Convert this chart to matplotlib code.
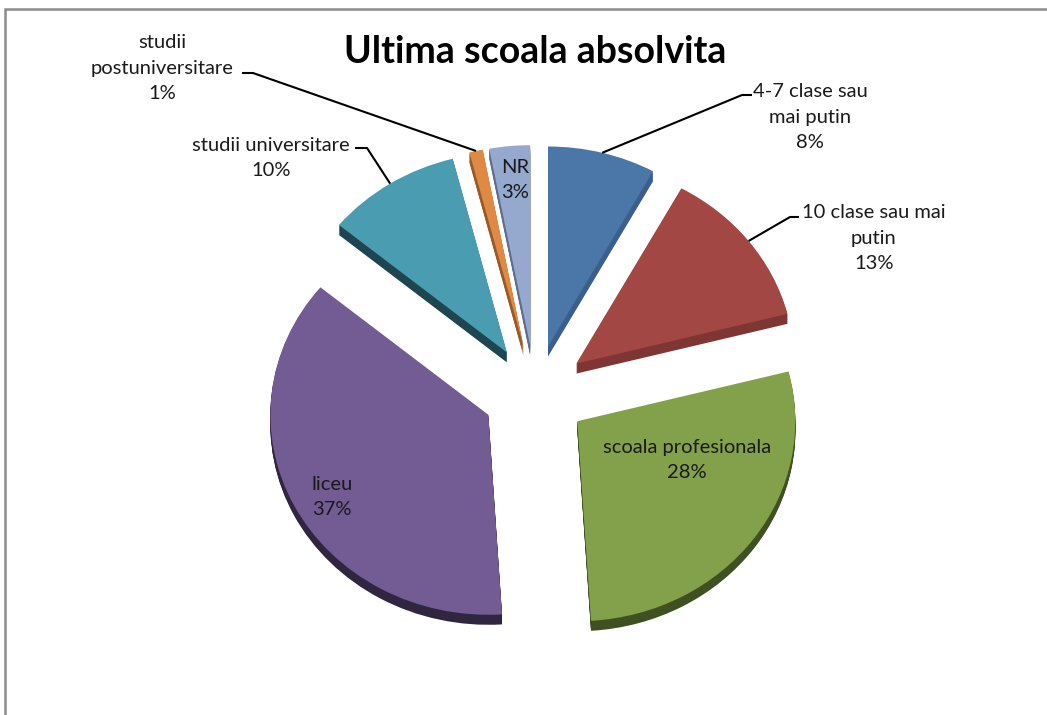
import numpy as np
import matplotlib.pyplot as plt
from matplotlib.patches import Rectangle

# data
categories = ['4-7 clase sau\nmai putin', '10 clase sau mai\nputin', 'scoala profesionala',
              'liceu', 'studii universitare', 'studii\npostuniversitare', 'NR']
values = [8, 13, 28, 37, 10, 1, 3]
colors = ['#4a76a8', '#a34745', '#83a04a', '#735b93', '#4a9db1', '#de8a45', '#95a8cd']
side_colors = ['#3a5f8c', '#7e3533', '#3f5022', '#30263f', '#1e4550', '#9a5a25', '#5c6d8e']

W, H = 1047, 715
# pie centre (pixels) and radii in pixels (slightly squashed like a 3d excel pie)
CX, CY = 535, 393
RX, RY = 218, 200


def px(x, y):
    # pixel position (from top-left) -> data coords
    return (x - CX) / RX, (CY - y) / RY


fig = plt.figure(figsize=(W / 100, H / 100), dpi=100)
plt.rcParams['font.family'] = ['Lato', 'DejaVu Sans']
ax = fig.add_axes([0, 0, 1, 1])

explode = [0.24] * len(values)

# side of the slices (3d depth)
depth = 10 / RY
for k in range(10, 0, -1):
    ax.pie(values, colors=side_colors, startangle=90, counterclock=False,
           explode=explode, center=(0, -depth * k / 10),
           wedgeprops=dict(linewidth=0))

wedges, _ = ax.pie(values, colors=colors, startangle=90, counterclock=False,
                   explode=explode, center=(0, 0), wedgeprops=dict(linewidth=0))

ax.set_aspect('auto')
ax.set_position([0, 0, 1, 1])
ax.set_xlim(-CX / RX, (W - CX) / RX)
ax.set_ylim(-(H - CY) / RY, CY / RY)
ax.axis('off')

labels = [c + '\n' + str(v) + '%' for c, v in zip(categories, values)]

# label positions in pixels (centre of text block)
label_pos = [(810, 117), (874, 238), (687, 460), (332, 497), (271, 158), (162, 68), (515, 180)]
# leader lines: elbow point and end point next to the text (pixels)
leaders = {0: [(742, 95), (752, 95)],
           1: [(790, 217), (799, 217)],
           4: [(367, 148), (355, 148)],
           5: [(253, 73), (242, 73)]}

for i, w in enumerate(wedges):
    tx, ty = px(*label_pos[i])
    ax.text(tx, ty, labels[i], ha='center', va='center', fontsize=14.5,
            color='#1a1a1a', linespacing=1.6)
    if i in leaders:
        tm = np.deg2rad((w.theta1 + w.theta2) / 2)
        x0 = w.center[0] + w.r * np.cos(tm)
        y0 = w.center[1] + w.r * np.sin(tm)
        pts = [px(*p) for p in leaders[i]]
        xs = [x0] + [p[0] for p in pts]
        ys = [y0] + [p[1] for p in pts]
        ax.plot(xs, ys, color='black', lw=1.5, solid_capstyle='butt')

tx, ty = px(535, 52)
ax.text(tx, ty, 'Ultima scoala absolvita', ha='center', va='center',
        fontsize=27, fontweight='bold', color='black')

# chart frame (only top and left visible)
fig.add_artist(Rectangle((5 / W, -0.1), 1.2, (H - 9) / H + 0.1, transform=fig.transFigure,
                         fill=False, edgecolor='#8c8c8c', lw=1.8))

plt.savefig('out.png', dpi=100)
